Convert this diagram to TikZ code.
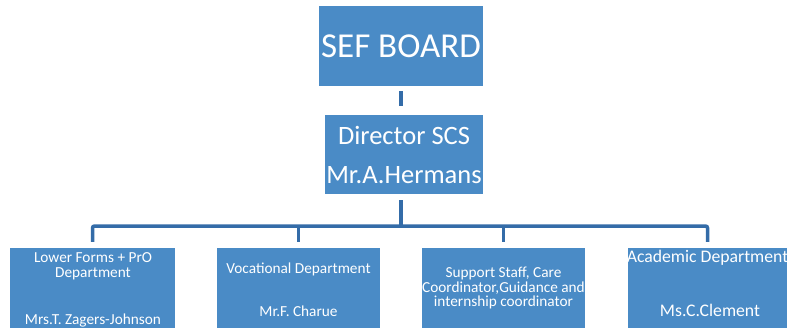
\documentclass[tikz,border=0pt]{standalone}
\usepackage{fontspec}
\setmainfont{Carlito}
\usetikzlibrary{positioning}
\definecolor{boxblue}{RGB}{74,139,198}
\definecolor{lineblue}{RGB}{52,108,168}
\begin{document}
\begin{tikzpicture}[x=1pt,y=-1pt,
  unit box/.style={fill=boxblue,inner sep=0pt,text=white},
  link/.style={color=lineblue,line width=3.5pt,rounded corners=2pt},
  label text/.style={text=white,anchor=base,inner sep=0pt}]
\useasboundingbox (0,0) rectangle (791,327);
\node[unit box,minimum width=164,minimum height=80,font=\fontsize{35}{40}\selectfont] (sef) at (401,46) {SEF BOARD};
\node[unit box,minimum width=158,minimum height=79,align=center,font=\fontsize{26.5}{39}\selectfont] (dir) at (404,154.5) {Director SCS\\Mr.A.Hermans};
\node[unit box,minimum width=165,minimum height=86] (lo) at (92.5,291) {};
\node[unit box,minimum width=163,minimum height=86] (vo) at (298.5,291) {};
\node[unit box,minimum width=163,minimum height=86] (su) at (503.5,291) {};
\node[unit box,minimum width=159,minimum height=86] (ac) at (707.5,291) {};
\begin{scope}[font=\fontsize{15.3}{18}\selectfont]
\node[label text] (lo-1) at (93,262) {Lower Forms + PrO};
\node[label text] (lo-2) at (93,277) {Department};
\node[label text] (lo-3) at (93,324) {Mrs.T. Zagers-Johnson};
\node[label text] (vo-1) at (298.5,273) {Vocational Department};
\node[label text] (vo-2) at (298.5,316) {Mr.F. Charue};
\node[label text] (su-1) at (503.5,277) {Support Staff, Care};
\node[label text] (su-2) at (503.5,292) {Coordinator,Guidance and};
\node[label text] (su-3) at (503.5,306) {internship coordinator};
\end{scope}
\begin{scope}[font=\fontsize{17.7}{21}\selectfont]
\node[label text] (ac-1) at (707.5,262) {Academic Department};
\node[label text] (ac-2) at (710,316) {Ms.C.Clement};
\end{scope}
\coordinate (bus) at (401,226);
\draw[link,shorten <=5pt,shorten >=9pt] (sef.south) -- (sef.south |- dir.north);
\draw[link,shorten <=6pt] (sef.south |- dir.south) -- (bus);
\draw[link,shorten <=6pt,shorten >=6pt] (lo.north) |- (bus) -| (ac.north);
\foreach \b in {vo,su}
\draw[link,shorten >=6pt] (\b.north |- bus) -- (\b.north);
\end{tikzpicture}
\end{document}
